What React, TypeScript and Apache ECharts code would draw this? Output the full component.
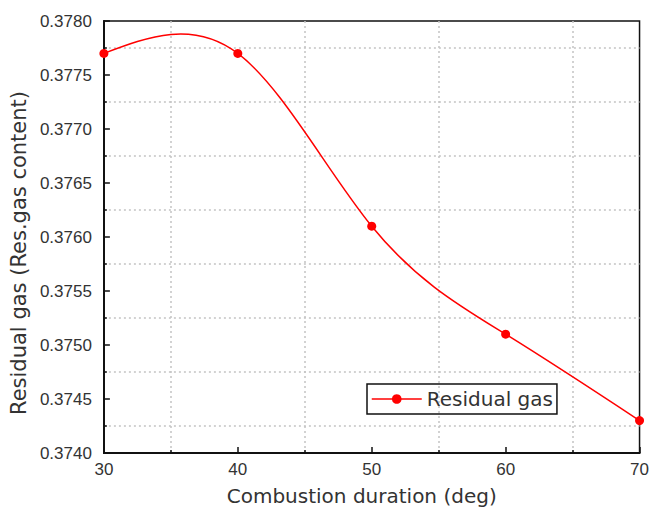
import React, { useEffect, useRef } from "react";
import * as echarts from "echarts";

const durations = [30, 40, 50, 60, 70];
const residualGas = [0.3777, 0.3777, 0.3761, 0.3751, 0.3743];
const seriesName = "Residual gas";

// natural cubic spline (second derivatives) through the data, as Origin draws it
function splineSecondDerivs(xs: number[], ys: number[]): number[] {
  const n = xs.length;
  const M = new Array(n).fill(0);
  if (n < 3) return M;
  const a: number[] = [], b: number[] = [], c: number[] = [], d: number[] = [];
  for (let i = 1; i < n - 1; i++) {
    const h0 = xs[i] - xs[i - 1];
    const h1 = xs[i + 1] - xs[i];
    a.push(h0 / 6);
    b.push((h0 + h1) / 3);
    c.push(h1 / 6);
    d.push((ys[i + 1] - ys[i]) / h1 - (ys[i] - ys[i - 1]) / h0);
  }
  const m = a.length;
  for (let i = 1; i < m; i++) {
    const w = a[i] / b[i - 1];
    b[i] -= w * c[i - 1];
    d[i] -= w * d[i - 1];
  }
  const sol = new Array(m).fill(0);
  sol[m - 1] = d[m - 1] / b[m - 1];
  for (let i = m - 2; i >= 0; i--) sol[i] = (d[i] - c[i] * sol[i + 1]) / b[i];
  for (let i = 0; i < m; i++) M[i + 1] = sol[i];
  return M;
}

export default function App() {
  const ref = useRef<HTMLDivElement>(null);
  useEffect(() => {
    if (!ref.current) return;
    const chart = echarts.init(ref.current, null, { renderer: "svg" });
    const M = splineSecondDerivs(durations, residualGas);
    const tickFont = { fontFamily: "Liberation Sans", fontSize: 17, color: "#333" };
    const nameFont = { fontFamily: "DejaVu Sans", fontSize: 20, color: "#333" };
    const dotted = { type: [2, 3] as any, color: "#c4c4c4", width: 1.5 };
    chart.setOption({
      animation: false,
      backgroundColor: "#fff",
      grid: {
        left: 103,
        right: 10,
        top: 21,
        bottom: 57,
        show: true,
        borderColor: "#111",
        borderWidth: 1.5,
      },
      legend: {
        data: [seriesName],
        left: 367,
        top: 384,
        padding: [4, 4, 4, 4],
        borderColor: "#111",
        borderWidth: 1.5,
        itemWidth: 50,
        itemHeight: 12,
        itemGap: 5,
        lineStyle: { color: "#ff0000", width: 1.5, opacity: 1 },
        itemStyle: { color: "#ff0000" },
        textStyle: { ...nameFont, lineHeight: 22, padding: [0, 0, 0, 0] },
      },
      xAxis: {
        type: "value",
        min: 30,
        max: 70,
        interval: 10,
        name: "Combustion duration (deg)",
        nameLocation: "middle",
        nameGap: 33,
        nameTextStyle: { ...nameFont, padding: [0, 20, 0, 0] },
        axisLine: { show: true, onZero: false, lineStyle: { color: "#111", width: 2 } },
        axisTick: { show: true, inside: true, length: 6, lineStyle: { color: "#111", width: 1.5 } },
        minorTick: { show: true, splitNumber: 2, length: 3, lineStyle: { color: "#111", width: 1.5 } },
        splitLine: { show: false },
        minorSplitLine: { show: true, lineStyle: dotted },
        axisLabel: { ...tickFont, margin: 8 },
      },
      yAxis: {
        type: "value",
        min: 0.374,
        max: 0.378,
        interval: 0.0005,
        name: "Residual gas (Res.gas content)",
        nameLocation: "middle",
        nameGap: 70,
        nameTextStyle: { ...nameFont, fontSize: 21, padding: [0, 32, 0, 0] },
        axisLine: { show: true, onZero: false, lineStyle: { color: "#111", width: 2 } },
        axisTick: { show: true, inside: true, length: 6, lineStyle: { color: "#111", width: 1.5 } },
        minorTick: { show: true, splitNumber: 2, length: 3, lineStyle: { color: "#111", width: 1.5 } },
        splitLine: { show: false },
        minorSplitLine: { show: true, lineStyle: dotted },
        axisLabel: { ...tickFont, margin: 12, formatter: (v: number) => v.toFixed(4) },
      },
      series: [
        {
          type: "custom",
          name: "curve",
          silent: true,
          z: 2,
          data: [[durations[0], residualGas[0]]],
          renderItem: (params: any, api: any) => {
            if (params.dataIndex !== 0) return null;
            const p0 = api.coord([durations[0], residualGas[0]]);
            let d = `M${p0[0]} ${p0[1]}`;
            for (let i = 0; i < durations.length - 1; i++) {
              const x0 = durations[i], x1 = durations[i + 1];
              const y0 = residualGas[i], y1 = residualGas[i + 1];
              const h = x1 - x0;
              const s = (y1 - y0) / h;
              const d0 = s - (h * (2 * M[i] + M[i + 1])) / 6;
              const d1 = s + (h * (M[i] + 2 * M[i + 1])) / 6;
              const c1 = api.coord([x0 + h / 3, y0 + (d0 * h) / 3]);
              const c2 = api.coord([x1 - h / 3, y1 - (d1 * h) / 3]);
              const p1 = api.coord([x1, y1]);
              d += ` C${c1[0]} ${c1[1]} ${c2[0]} ${c2[1]} ${p1[0]} ${p1[1]}`;
            }
            return {
              type: "path",
              shape: { pathData: d },
              style: { stroke: "#ff0000", fill: "none", lineWidth: 1.5 },
            };
          },
        },
        {
          type: "line",
          name: seriesName,
          z: 3,
          data: durations.map((x, i) => [x, residualGas[i]]),
          symbol: "circle",
          symbolSize: 9,
          showSymbol: true,
          itemStyle: { color: "#ff0000" },
          lineStyle: { color: "#ff0000", width: 1.5, opacity: 0 },
        },
      ],
    });
    return () => chart.dispose();
  }, []);
  return (
    <div
      ref={ref}
      style={{ position: "fixed", left: 0, top: 0, width: 652, height: 511, background: "#fff" }}
    />
  );
}
